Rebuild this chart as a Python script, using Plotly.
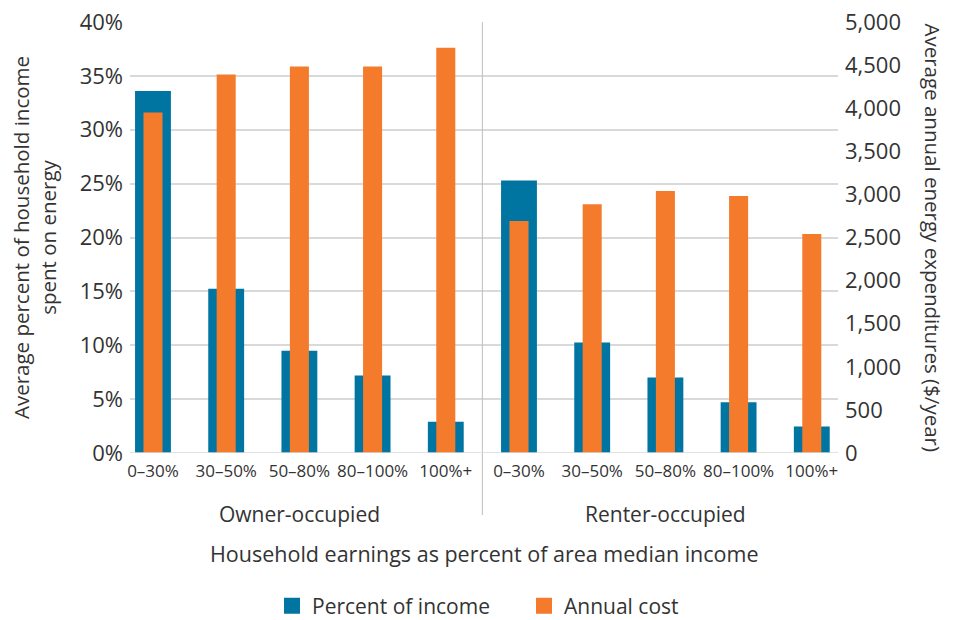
import plotly.graph_objects as go

categories = ["0–30%", "30–50%", "50–80%", "80–100%", "100%+",
              "0–30%", "30–50%", "50–80%", "80–100%", "100%+"]
groups = ["Owner-occupied", "Renter-occupied"]
percent_of_income = [33.6, 15.25, 9.5, 7.2, 2.9, 25.3, 10.25, 7.0, 4.7, 2.45]
annual_cost = [3950, 4390, 4485, 4485, 4700, 2690, 2885, 3040, 2980, 2540]

BLUE = "#0075A2"
ORANGE = "#F47B2C"
TEXT = "#333333"
FONT = "Open Sans, Liberation Sans, Arial, sans-serif"

x = list(range(len(categories)))

fig = go.Figure()
fig.add_trace(go.Bar(x=x, y=percent_of_income, name="Percent of income",
                     marker=dict(color=BLUE, line=dict(width=0)), width=0.49,
                     yaxis="y", showlegend=False))
fig.add_trace(go.Bar(x=x, y=annual_cost, name="Annual cost",
                     marker=dict(color=ORANGE, line=dict(width=0)), width=0.26,
                     yaxis="y2", showlegend=False))
# legend entries
fig.add_trace(go.Scatter(x=[None], y=[None], mode="markers", name="Percent of income",
                         marker=dict(symbol="square", size=20, color=BLUE)))
fig.add_trace(go.Scatter(x=[None], y=[None], mode="markers", name="Annual cost",
                         marker=dict(symbol="square", size=20, color=ORANGE)))

annotations = []
for i, g in enumerate(groups):
    annotations.append(dict(x=2 + 5 * i, y=(453 - 514) / 431, xref="x", yref="paper",
                            text=g, showarrow=False, font=dict(size=21, color=TEXT, family=FONT),
                            yanchor="middle"))
annotations.append(dict(x=0.5, y=(453 - 553) / 431, xref="paper", yref="paper",
                        text="Household earnings as percent of area median income",
                        showarrow=False, font=dict(size=21.5, color=TEXT, family=FONT),
                        yanchor="middle"))
annotations.append(dict(x=1, xshift=95, y=0.5, xref="paper", yref="paper",
                        text="Average annual energy expenditures ($/year)", textangle=90,
                        showarrow=False, font=dict(size=20.5, color=TEXT, family=FONT),
                        xanchor="center", yanchor="middle"))

fig.update_layout(
    width=956, height=620,
    margin=dict(l=130, r=118, t=22, b=167, autoexpand=False),
    paper_bgcolor="white", plot_bgcolor="white",
    barmode="overlay",
    font=dict(family=FONT, color=TEXT),
    xaxis=dict(tickmode="array", tickvals=x, ticktext=categories,
               range=[-0.314, 9.358], showgrid=False, zeroline=False,
               tickfont=dict(size=17, color=TEXT), ticks="", ticklabelstandoff=6,
               showline=False, automargin=False),
    yaxis=dict(range=[0, 40], dtick=5, ticksuffix="%", showgrid=True,
               gridcolor="#D9D9D9", gridwidth=1.5, zeroline=False, automargin=False,
               tickfont=dict(size=22, color=TEXT), ticklabelstandoff=6,
               title=dict(text="Average percent of household income<br>spent on energy",
                          font=dict(size=20.5, color=TEXT), standoff=17)),
    yaxis2=dict(range=[0, 5000], dtick=500, tickformat=",", overlaying="y", side="right",
                showgrid=False, zeroline=False, tickfont=dict(size=22, color=TEXT),
                ticklabelstandoff=6, automargin=False),
    legend=dict(orientation="h", x=(272 - 130) / 708, xanchor="left", y=(453 - 606) / 431,
                yanchor="middle", font=dict(size=21, color=TEXT), itemwidth=30,
                tracegroupgap=0, entrywidth=207, entrywidthmode="pixels"),
    annotations=annotations,
    shapes=[dict(type="line", xref="x", yref="paper", x0=4.5, x1=4.5,
                 y0=(453 - 515) / 431, y1=1, line=dict(color="#BFBFBF", width=1)),
            dict(type="line", xref="paper", yref="y", x0=0, x1=1, y0=0, y1=0,
                 line=dict(color="#D9D9D9", width=1.5))],
)

fig.write_html("out.html")
